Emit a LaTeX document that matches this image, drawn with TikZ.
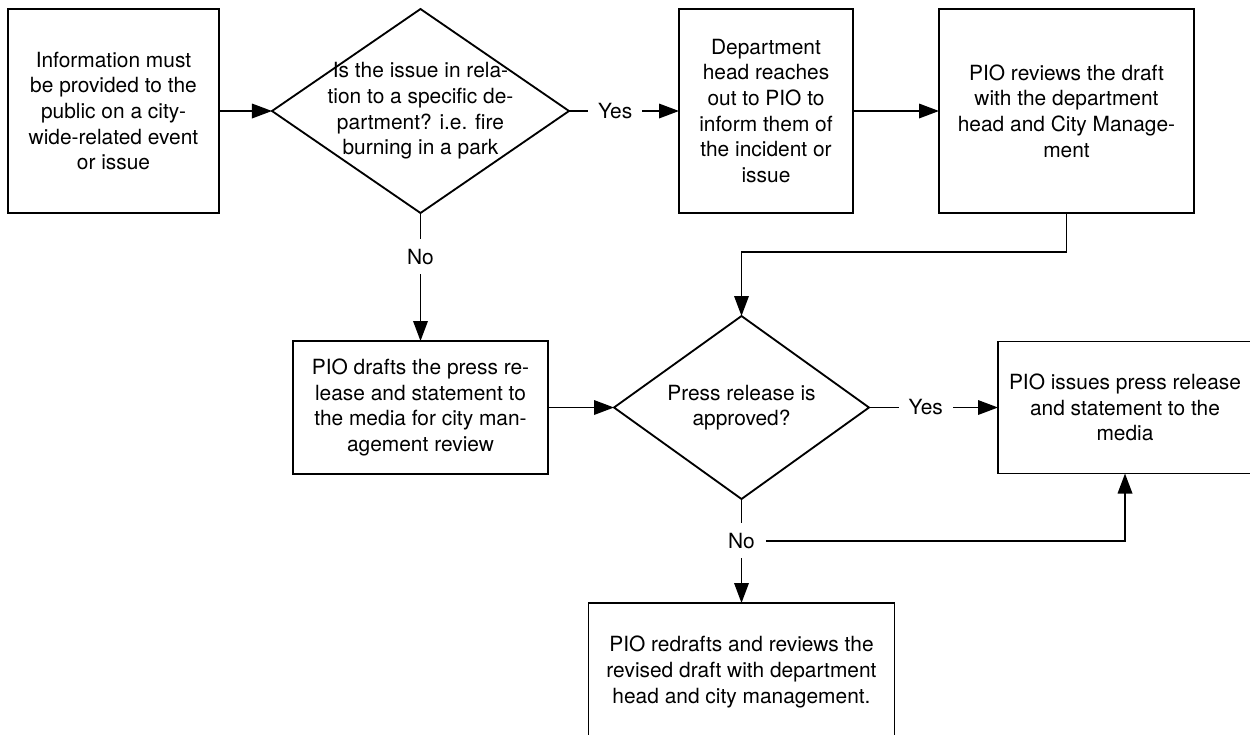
\documentclass[tikz,border=0pt]{standalone}
\usepackage{fontspec}
\setmainfont{TeX Gyre Heros}
\usetikzlibrary{arrows.meta,positioning,shapes.geometric}

\begin{document}
\begin{tikzpicture}[
  font=\fontsize{11.9pt}{14.6pt}\selectfont, line width=1.05pt, node distance=2cm,
  box/.style={draw, minimum height=4.08cm, inner sep=2pt, outer sep=0pt, align=center},
  dec/.style={draw, diamond, inner sep=0pt, outer sep=0pt},
  txt/.style={align=center},
  lbl/.style={fill=white, inner sep=2mm},
  arr/.style={-{Triangle[length=4mm, width=2.9mm]}}]
  \clip (-2.27,2.22) rectangle (22.73,-12.46);
  \node[box, minimum width=4.22cm] (info) {Information must\\be provided to the\\public on a city-\\wide-related event\\or issue};
  \node[dec, right=1.06cm of info, minimum width=5.94cm, minimum height=4.08cm,
    label={[txt]center:{Is the issue in rela-\\tion to a specific de-\\partment? i.e. fire\\burning in a park}}] (dept) {};
  \node[box, right=2.2cm of dept, minimum width=3.48cm] (head) {Department\\head reaches\\out to PIO to\\inform them of\\the incident or\\issue};
  \node[box, right=1.72cm of head, minimum width=5.1cm] (review) {PIO reviews the draft\\with the department\\head and City Manage-\\ment};
  \node[box, below=2.56cm of dept, minimum width=5.1cm, minimum height=2.66cm] (draft) {PIO drafts the press re-\\lease and statement to\\the media for city man-\\agement review};
  \node[dec, right=1.32cm of draft, minimum width=5.1cm, minimum height=3.66cm,
    label={[txt]center:{Press release is\\approved?}}] (approved) {};
  \node[box, right=2.58cm of approved, minimum width=5.08cm, minimum height=2.64cm] (issue) {PIO issues press release\\and statement to the\\media};
  \node[box, below=2.08cm of approved, minimum width=6.12cm, minimum height=2.76cm] (redraft) {PIO redrafts and reviews the\\revised draft with department\\head and city management.};
  \draw[arr] (info) -- (dept);
  \draw[arr] (dept) -- node[lbl, pos=0.42] (yes1) {Yes} (head);
  \draw[arr] (head) -- (review);
  \draw[arr] (dept) -- node[lbl, pos=0.34] (no1) {No} (draft);
  \draw[arr] (review.south) -- ++(0,-0.78) -| (approved.north);
  \draw[arr] (draft) -- (approved);
  \draw[arr] (approved) -- node[lbl, pos=0.44] (yes2) {Yes} (issue);
  \draw[arr] (approved) -- node[lbl, pos=0.4] (no2) {No} (redraft);
  \draw[arr] (no2) -| (issue);
\end{tikzpicture}
\end{document}
